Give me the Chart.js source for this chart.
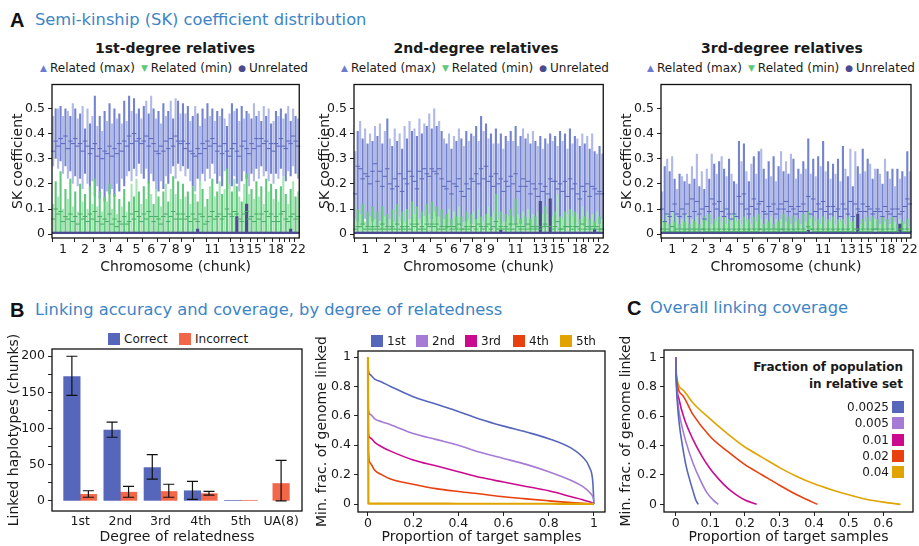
<!DOCTYPE html>
<html>
<head>
<meta charset="utf-8">
<script src="https://cdn.jsdelivr.net/npm/chart.js@4.4.1/dist/chart.umd.min.js"></script>
<style>
html,body{margin:0;padding:0;background:#fff;}
#wrap{position:relative;width:919px;height:546px;overflow:hidden;font-family:"DejaVu Sans",Verdana,sans-serif;color:#1a1a1a;}
.t{position:absolute;white-space:nowrap;line-height:1;transform:translateY(-50%);}
.c{transform:translate(-50%,-50%);}
.hd{font-size:16.3px;color:#3d85c6;}
.lt{font-family:"Liberation Sans",Arial,sans-serif;font-weight:bold;font-size:20px;color:#111;}
.pt{font-weight:bold;font-size:14px;}
.lg{font-size:12px;display:flex;align-items:center;gap:6px;}
.lg i{font-style:normal;font-size:9px;margin-right:3px;position:relative;top:-1px;}
.box{position:absolute;width:12px;height:12px;}
.lt2{font-size:12px;}
.lb{font-size:12px;font-weight:bold;}
canvas{position:absolute;}
</style>
</head>
<body>
<div id="wrap">
  <div class="t lt" style="left:10px;top:20px">A</div>
  <div class="t hd" style="left:35px;top:20px">Semi-kinship (SK) coefficient distribution</div>
  <div class="t c pt" style="left:175px;top:48px">1st-degree relatives</div>
  <div class="t c pt" style="left:476px;top:48px">2nd-degree relatives</div>
  <div class="t c pt" style="left:782px;top:48px">3rd-degree relatives</div>
  <div class="t c lg" style="left:174px;top:68px"><span><i style="color:#6b7bd0">▲</i>Related (max)</span><span><i style="color:#5cc878">▼</i>Related (min)</span><span><i style="color:#4b4a8f">●</i>Unrelated</span></div>
  <div class="t c lg" style="left:475px;top:68px"><span><i style="color:#6b7bd0">▲</i>Related (max)</span><span><i style="color:#5cc878">▼</i>Related (min)</span><span><i style="color:#4b4a8f">●</i>Unrelated</span></div>
  <div class="t c lg" style="left:781px;top:68px"><span><i style="color:#6b7bd0">▲</i>Related (max)</span><span><i style="color:#5cc878">▼</i>Related (min)</span><span><i style="color:#4b4a8f">●</i>Unrelated</span></div>

  <div class="t lt" style="left:10px;top:310px">B</div>
  <div class="t hd" style="left:35px;top:310px">Linking accuracy and coverage, by degree of relatedness</div>
  <div class="t lt" style="left:627px;top:308px">C</div>
  <div class="t hd" style="left:650px;top:308px">Overall linking coverage</div>

  <div class="box" style="left:108px;top:333px;background:#5566bb"></div>
  <div class="t lt2" style="left:124px;top:339px">Correct</div>
  <div class="box" style="left:179px;top:333px;background:#f26649"></div>
  <div class="t lt2" style="left:195px;top:339px">Incorrect</div>

  <div class="t lb" style="right:16px;top:367px">Fraction of population</div>
  <div class="t lb" style="right:16px;top:384px">in relative set</div>

  <canvas id="sk1" width="300" height="206" style="left:6px;top:74px"></canvas>
  <canvas id="sk2" width="297" height="206" style="left:313px;top:74px"></canvas>
  <canvas id="sk3" width="304" height="206" style="left:615px;top:74px"></canvas>
  <canvas id="b1" width="310" height="228" style="left:0px;top:318px"></canvas>
  <canvas id="b2" width="304" height="228" style="left:310px;top:318px"></canvas>
  <canvas id="cc" width="305" height="228" style="left:614px;top:318px"></canvas>
</div>
<script>
// ---------------- DATA ----------------
// chunks per chromosome (1..22) and which chromosome numbers are labelled
const chromChunks = [9,8,7,7,6,6,5,5,5,5,5,5,4,4,3,3,3,3,2,2,2,2];
const chromShown = [1,2,3,4,5,6,7,8,9,11,13,15,18,22];
const skTicks = [0, 0.1, 0.2, 0.3, 0.4, 0.5];

// Panel 1: 1st-degree
const p1MaxHi = [.47,.50,.50,.51,.47,.50,.49,.47,.52, .50,.46,.48,.51,.42,.50,.44,.47, .55,.43,.47,.41,.49,.45,.52, .44,.50,.46,.48,.44,.53,.45, .55,.49,.54,.48,.50,.46, .51,.53,.48,.55,.50,.46, .49,.44,.52,.47,.49, .53,.46,.54,.53,.48, .52,.48,.51,.45,.47, .51,.48,.43,.50,.46, .52,.47,.50,.45,.49, .47,.50,.46,.43,.48, .52,.49,.50,.45, .51,.46,.49,.48, .46,.52,.47, .49,.45,.51, .47,.50,.44, .45,.49,.47, .50,.46, .48,.51, .45,.50, .47,.46];
const p1MaxLo = [.27,.30,.26,.29,.24,.27,.22,.25,.20, .23,.19,.22,.18,.24,.20,.17,.21, .15,.19,.14,.18,.13,.17,.16, .18,.15,.20,.17,.22,.19,.23, .25,.21,.26,.23,.28,.24, .22,.26,.20,.24,.21,.18, .17,.21,.18,.23,.20, .24,.27,.22,.28,.25, .27,.23,.26,.21,.19, .17,.22,.19,.24,.21, .26,.22,.28,.24,.20, .23,.19,.25,.21,.18, .19,.23,.20,.17, .21,.25,.22,.19, .24,.21,.26, .22,.27,.23, .25,.21,.24, .20,.24,.22, .26,.23, .21,.25, .23,.27, .24,.22];
const p1MaxMean = [.33,.37,.35,.38,.36,.39,.34,.37,.36, .38,.35,.36,.33,.37,.35,.32,.34, .36,.31,.34,.30,.33,.32,.35, .31,.34,.32,.36,.33,.37,.35, .39,.36,.40,.37,.38,.36, .37,.39,.35,.38,.36,.33, .32,.35,.33,.37,.34, .38,.35,.39,.37,.36, .37,.34,.36,.33,.32, .31,.34,.32,.36,.34, .37,.35,.38,.36,.33, .35,.32,.36,.33,.31, .34,.36,.33,.31, .35,.37,.34,.32, .36,.34,.38, .35,.38,.36, .37,.34,.36, .33,.36,.35, .38,.35, .34,.37, .36,.39, .37,.35];
const p1MinHi = [.12,.21,.15,.25,.10,.18,.14,.22,.11, .17,.09,.20,.13,.16,.10,.19,.12, .22,.11,.17,.09,.15,.13,.20, .10,.16,.08,.14,.11,.18,.09, .13,.20,.15,.22,.17,.12, .19,.14,.21,.16,.12,.18, .15,.11,.17,.20,.13, .18,.23,.16,.21,.14, .20,.15,.17,.12,.19, .16,.13,.21,.18,.11, .14,.19,.22,.15,.17, .21,.16,.18,.26,.20, .17,.22,.19,.15, .13,.20,.24,.16, .18,.14,.21, .15,.19,.12, .22,.17,.20, .14,.18,.13, .19,.23, .16,.12, .18,.21, .15,.17];
const p1MinMean = [.06,.10,.08,.09,.05,.07,.06,.08,.05, .07,.04,.08,.06,.07,.05,.08,.06, .09,.05,.07,.04,.06,.05,.08, .04,.06,.03,.05,.04,.07,.04, .05,.08,.06,.09,.07,.05, .08,.06,.09,.07,.05,.07, .06,.04,.07,.08,.05, .07,.09,.06,.08,.06, .08,.06,.07,.05,.08, .06,.05,.08,.07,.04, .05,.07,.09,.06,.07, .08,.06,.07,.10,.08, .07,.09,.08,.06, .05,.08,.09,.06, .07,.05,.08, .06,.08,.05, .09,.07,.08, .05,.07,.05, .08,.09, .06,.05, .07,.08, .06,.07];
const p1Unrel = [.008,.008,.008,.008,.008,.008,.008,.008,.008, .008,.008,.008,.008,.008,.008,.008,.008, .008,.008,.008,.008,.008,.008,.008, .008,.008,.008,.008,.008,.008,.008, .008,.008,.008,.008,.008,.008, .008,.008,.008,.008,.008,.008, .008,.008,.008,.008,.008, .008,.008,.008,.008,.008, .008,.008,.008,.008,.008, .008,.02,.008,.008,.008, .008,.008,.008,.008,.008, .008,.008,.008,.008,.008, .008,.008,.07,.008, .008,.008,.12,.008, .008,.008,.008, .008,.008,.008, .008,.008,.008, .008,.008,.008, .008,.008, .008,.008, .02,.008, .008,.008];

// Panel 2: 2nd-degree
const p2MaxHi = [.33,.41,.45,.38,.42,.36,.40,.37,.43, .39,.44,.36,.41,.46,.38,.35,.42, .37,.40,.34,.43,.38,.45,.41, .42,.39,.46,.40,.44,.43,.48, .42,.50,.43,.45,.41,.38, .36,.40,.34,.39,.37,.42, .38,.35,.41,.37,.40, .39,.43,.37,.47,.41, .44,.38,.40,.36,.42, .36,.40,.34,.39,.37, .41,.37,.43,.35,.39, .42,.38,.40,.36,.41, .37,.35,.39,.34, .38,.36,.40,.37, .39,.35,.41, .37,.40,.34, .42,.36,.39, .38,.35,.40, .36,.39, .34,.40, .33,.32, .35,.32];
const p2MaxLo = [.03,.05,.02,.04,.06,.03,.02,.05,.04, .03,.05,.02,.04,.03,.06,.02,.04, .03,.05,.02,.04,.03,.06,.04, .05,.03,.06,.04,.07,.05,.03, .06,.04,.07,.05,.03,.04, .02,.04,.03,.05,.02,.04, .03,.02,.05,.03,.04, .04,.06,.03,.05,.02, .05,.03,.04,.02,.03, .02,.04,.03,.05,.02, .03,.05,.04,.02,.04, .05,.03,.04,.02,.03, .02,.04,.03,.02, .03,.05,.02,.04, .03,.02,.04, .02,.04,.03, .05,.03,.04, .02,.04,.03, .03,.05, .02,.04, .03,.02, .04,.03];
const p2MaxMean = [.16,.27,.26,.22,.24,.23,.20,.25,.28, .21,.25,.19,.23,.26,.20,.18,.22, .19,.24,.17,.22,.20,.25,.23, .21,.18,.25,.22,.26,.24,.23, .26,.25,.24,.26,.22,.19, .18,.21,.16,.20,.19,.22, .17,.15,.20,.18,.22, .21,.24,.20,.26,.22, .27,.21,.23,.19,.24, .20,.22,.17,.21,.19, .23,.20,.24,.17,.19, .22,.19,.21,.16,.20, .18,.15,.20,.17, .19,.16,.22,.21, .21,.18,.20, .17,.21,.15, .22,.18,.20, .16,.14,.19, .17,.20, .15,.19, .18,.16, .17,.16];
const p2MinHi = [.06,.10,.08,.12,.05,.09,.07,.11,.06, .09,.05,.11,.07,.08,.06,.10,.05, .12,.07,.09,.05,.10,.06,.13, .08,.11,.06,.09,.07,.12,.08, .13,.09,.11,.07,.10,.06, .08,.10,.06,.09,.07,.11, .07,.05,.09,.06,.08, .09,.06,.10,.07,.05, .08,.11,.07,.09,.16, .06,.09,.05,.08,.07, .10,.07,.14,.08,.06, .09,.07,.10,.06,.08, .07,.09,.06,.08, .11,.08,.10,.07, .09,.16,.07, .06,.09,.08, .10,.07,.09, .08,.06,.11, .07,.09, .06,.08, .05,.09, .07,.06];
const p2MinMean = [.02,.03,.03,.04,.02,.03,.02,.03,.02, .03,.02,.04,.02,.03,.02,.03,.02, .04,.02,.03,.02,.03,.02,.04, .03,.04,.02,.03,.02,.04,.03, .04,.03,.04,.02,.03,.02, .03,.03,.02,.03,.02,.04, .02,.02,.03,.02,.03, .03,.02,.04,.03,.02, .03,.04,.02,.03,.05, .02,.03,.02,.03,.02, .04,.02,.04,.03,.02, .03,.02,.04,.02,.03, .02,.03,.02,.03, .04,.03,.03,.02, .03,.05,.02, .02,.03,.03, .03,.02,.03, .03,.02,.04, .02,.03, .02,.03, .02,.03, .02,.02];
const p2Unrel = [.008,.008,.008,.008,.008,.008,.008,.008,.008, .008,.008,.008,.008,.008,.008,.008,.008, .008,.008,.008,.008,.008,.008,.008, .008,.008,.008,.008,.008,.008,.008, .008,.008,.008,.008,.008,.008, .008,.008,.008,.008,.008,.008, .008,.008,.008,.008,.008, .008,.008,.008,.008,.008, .008,.008,.008,.008,.008, .008,.015,.008,.008,.008, .008,.008,.008,.008,.008, .008,.008,.008,.008,.008, .008,.008,.13,.008, .008,.008,.14,.008, .008,.008,.008, .008,.008,.008, .008,.008,.008, .008,.008,.008, .008,.008, .008,.008, .02,.008, .008,.008];

// Panel 3: 3rd-degree
const p3MaxHi = [.17,.27,.30,.25,.31,.22,.18,.24,.23, .21,.24,.20,.27,.22,.32,.19,.25, .18,.26,.22,.32,.28,.24,.29, .31,.26,.23,.30,.24,.21,.20, .37,.29,.36,.25,.21,.28, .31,.24,.33,.34,.26,.22, .29,.23,.31,.21,.27, .33,.25,.29,.24,.32, .30,.22,.26,.24,.29, .26,.38,.24,.30,.23, .31,.27,.37,.25,.29, .22,.28,.24,.30,.21, .35,.26,.23,.34, .19,.33,.27,.24, .34,.25,.30, .28,.22,.26, .26,.24,.20, .30,.25,.22, .26,.19, .26,.22, .25,.23, .33,.25];
const p3MaxLo = [.02,.01,.03,.01,.02,.01,.01,.02,.01, .01,.02,.01,.03,.01,.02,.01,.02, .01,.02,.01,.03,.02,.01,.02, .02,.01,.02,.01,.01,.02,.01, .03,.02,.03,.01,.01,.02, .02,.01,.02,.03,.01,.01, .02,.01,.02,.01,.01, .02,.01,.03,.01,.02, .01,.01,.02,.03,.02, .01,.02,.01,.03,.01, .02,.01,.02,.01,.02, .01,.02,.01,.02,.01, .02,.01,.01,.02, .01,.02,.01,.01, .02,.01,.02, .01,.01,.02, .02,.01,.01, .01,.02,.01, .02,.01, .01,.02, .01,.02, .02,.01];
const p3MaxMean = [.10,.05,.08,.07,.09,.12,.08,.07,.10, .08,.12,.07,.14,.09,.13,.08,.10, .06,.11,.09,.14,.12,.10,.13, .09,.07,.10,.08,.06,.08,.07, .15,.12,.16,.10,.08,.11, .14,.10,.12,.13,.09,.08, .11,.09,.12,.08,.10, .12,.10,.13,.09,.11, .10,.08,.11,.09,.12, .09,.15,.08,.14,.09, .12,.10,.13,.09,.11, .08,.11,.09,.10,.07, .12,.10,.08,.13, .07,.12,.10,.09, .12,.09,.11, .10,.08,.09, .10,.09,.07, .11,.09,.08, .10,.07, .10,.08, .09,.11, .14,.12];
const p3MinHi = [.06,.05,.08,.04,.09,.05,.07,.04,.06, .05,.08,.04,.06,.05,.07,.04,.06, .07,.05,.08,.04,.06,.05,.07, .05,.07,.04,.06,.05,.08,.05, .06,.04,.07,.05,.06,.04, .07,.05,.08,.06,.04,.06, .05,.07,.04,.06,.05, .06,.08,.05,.07,.04, .07,.05,.06,.04,.08, .05,.09,.06,.07,.05, .06,.04,.07,.05,.06, .05,.07,.04,.06,.05, .06,.04,.07,.05, .05,.07,.06,.04, .06,.05,.07, .05,.07,.06, .06,.04,.07, .05,.06,.04, .07,.05, .04,.06, .05,.04, .06,.03];
const p3MinMean = [.02,.01,.02,.01,.03,.01,.02,.01,.02, .01,.02,.01,.02,.01,.02,.01,.02, .02,.01,.02,.01,.02,.01,.02, .01,.02,.01,.02,.01,.02,.01, .02,.01,.02,.01,.02,.01, .02,.01,.02,.02,.01,.02, .01,.02,.01,.02,.01, .02,.02,.01,.02,.01, .02,.01,.02,.01,.02, .01,.03,.02,.02,.01, .02,.01,.02,.01,.02, .01,.02,.01,.02,.01, .02,.01,.02,.01, .01,.02,.02,.01, .02,.01,.02, .01,.02,.02, .02,.01,.02, .01,.02,.01, .02,.01, .01,.02, .02,.01, .02,.01];
const p3Unrel = [.008,.008,.008,.008,.008,.008,.008,.008,.008, .008,.008,.008,.008,.008,.008,.008,.008, .008,.008,.008,.008,.008,.008,.008, .008,.008,.008,.008,.008,.008,.008, .008,.008,.008,.008,.008,.008, .008,.008,.008,.008,.008,.008, .008,.008,.008,.008,.008, .008,.008,.008,.008,.008, .008,.008,.008,.008,.008, .008,.015,.008,.008,.008, .008,.008,.008,.008,.008, .008,.008,.008,.008,.008, .008,.008,.008,.008, .008,.008,.08,.008, .008,.008,.008, .008,.008,.008, .008,.008,.008, .008,.008,.008, .008,.008, .008,.04, .008,.008, .008,.008];

// Panel B (bars)
const degCats = ['1st','2nd','3rd','4th','5th','UA(8)'];
const correctVal = [172, 98, 46, 14, 0.8, null];
const correctLo  = [146, 88, 30, 2, null, null];
const correctHi  = [200, 109, 64, 27, null, null];
const incorrectVal = [9, 12, 13, 10, 0.8, 24];
const incorrectLo  = [5, 5, 5, 8, null, 0];
const incorrectHi  = [14, 20, 23, 13, null, 56];
const b1Ticks = [0,25,50,75,100,125,150,175,200];

// Panel B (curves)
const degLabels = ['1st','2nd','3rd','4th','5th'];
const b2X  = [0, 0.002, 0.01, 0.03, 0.06, 0.1, 0.2, 0.3, 0.4, 0.5, 0.6, 0.7, 0.8, 0.9, 0.95, 0.98, 0.995, 1];
const deg1 = [1, 0.91, 0.88, 0.85, 0.83, 0.80, 0.73, 0.68, 0.63, 0.575, 0.53, 0.49, 0.445, 0.38, 0.32, 0.25, 0.15, 0];
const deg2 = [1, 0.64, 0.61, 0.58, 0.56, 0.54, 0.48, 0.44, 0.40, 0.35, 0.31, 0.27, 0.22, 0.16, 0.12, 0.08, 0.05, 0.02];
const deg3 = [1, 0.48, 0.45, 0.42, 0.39, 0.36, 0.30, 0.26, 0.22, 0.18, 0.15, 0.12, 0.09, 0.05, 0.03, 0.015, 0.005, 0];
const deg4 = [1, 0.36, 0.28, 0.23, 0.20, 0.17, 0.135, 0.105, 0.085, 0.068, 0.05, 0.035, 0.022, 0.01, 0.005, 0.002, 0.001, 0];
const deg5 = [1, 0.004, 0.003, 0.003, 0.003, 0.003, 0.003, 0.003, 0.002, 0.002, 0.002, 0.002, 0.002, 0.001, 0.001, 0.001, 0.001, 0];
const b2XTicks = [0, 0.2, 0.4, 0.6, 0.8, 1];
const b2YTicks = [0, 0.2, 0.4, 0.6, 0.8, 1];

// Panel C (curves)
const fracLabels = ['0.0025','0.005','0.01','0.02','0.04'];
const f0025X = [0, 0.002, 0.005, 0.01, 0.02, 0.03, 0.04, 0.05, 0.058, 0.065];
const f0025Y = [1, 0.80, 0.68, 0.55, 0.39, 0.26, 0.17, 0.09, 0.03, 0];
const f005X = [0, 0.002, 0.005, 0.01, 0.02, 0.03, 0.05, 0.07, 0.09, 0.11, 0.123];
const f005Y = [1, 0.82, 0.72, 0.62, 0.51, 0.42, 0.28, 0.17, 0.08, 0.025, 0];
const f01X = [0, 0.002, 0.01, 0.025, 0.05, 0.075, 0.1, 0.125, 0.15, 0.175, 0.2, 0.234];
const f01Y = [1, 0.84, 0.71, 0.58, 0.44, 0.33, 0.24, 0.17, 0.11, 0.065, 0.03, 0];
const f02X = [0, 0.002, 0.02, 0.05, 0.1, 0.15, 0.2, 0.25, 0.3, 0.35, 0.4, 0.41];
const f02Y = [1, 0.86, 0.74, 0.61, 0.46, 0.36, 0.27, 0.20, 0.13, 0.065, 0.01, 0];
const f04X = [0, 0.002, 0.02, 0.05, 0.1, 0.15, 0.2, 0.25, 0.3, 0.35, 0.4, 0.45, 0.5, 0.55, 0.6, 0.65];
const f04Y = [1, 0.88, 0.78, 0.69, 0.58, 0.48, 0.39, 0.32, 0.25, 0.19, 0.14, 0.10, 0.065, 0.035, 0.015, 0];
const cXTicks = [0, 0.1, 0.2, 0.3, 0.4, 0.5, 0.6];
const cYTicks = [0, 0.2, 0.4, 0.6, 0.8, 1];

// ---------------- STYLE ----------------
const FONT = '"DejaVu Sans", Verdana, sans-serif';
const TXT = '#1a1a1a';
const curveColors = ['#5566bb', '#a57bd6', '#cc0a8f', '#e8400e', '#e0a300'];
Chart.defaults.font.family = FONT;
Chart.defaults.color = TXT;
Chart.defaults.animation = false;
Chart.defaults.plugins.legend.display = false;
Chart.defaults.plugins.tooltip.enabled = false;

Chart.register({
  id: 'frame',
  afterDraw(chart) {
    const a = chart.chartArea, c = chart.ctx;
    c.save(); c.strokeStyle = '#111'; c.lineWidth = 1.3;
    c.strokeRect(a.left, a.top, a.right - a.left, a.bottom - a.top);
    c.restore();
  }
});

const fmt = v => String(+(+v).toFixed(3));
const tickFont = { size: 12.5 };
const titleFont = { size: 14 };

// chunk labels & chromosome boundaries
const chunkLabels = [];
const boundaryIdx = new Set();
(function () {
  let s = 0;
  chromChunks.forEach((n, k) => {
    const chrom = k + 1;
    boundaryIdx.add(s);
    const mid = Math.round(s + (n - 1) / 2);
    for (let j = 0; j < n; j++) chunkLabels.push(chromShown.includes(chrom) && s + j === mid ? String(chrom) : '');
    s += n;
  });
})();

function skChart(id, d, padRight, yWidth) {
  const alt = (a, b) => ctx => (ctx.dataIndex % 2 ? a : b);
  return new Chart(document.getElementById(id), {
    data: {
      labels: chunkLabels,
      datasets: [
        { type: 'bar', label: 'Related (max)', data: d.maxLo.map((v, i) => [v, d.maxHi[i]]),
          backgroundColor: alt('#7383cf', '#b0b9e7'), grouped: false, barPercentage: 0.85, categoryPercentage: 1, order: 6 },
        { type: 'bar', label: 'Related (min)', data: d.minHi,
          backgroundColor: alt('#5fc97b', '#a8e4b6'), grouped: false, barPercentage: 0.85, categoryPercentage: 1, order: 5 },
        { type: 'bar', label: 'Unrelated', data: d.unrel.map(v => [0, v]),
          backgroundColor: '#4b4a8f', grouped: false, barPercentage: 1, categoryPercentage: 1, order: 4 },
        { type: 'line', label: 'Related (max) mean', data: d.maxMean, showLine: false, pointStyle: 'line',
          pointRadius: 2.2, borderColor: '#5866bd', borderWidth: 1, order: 2 },
        { type: 'line', label: 'Related (min) mean', data: d.minMean, showLine: false, pointStyle: 'line',
          pointRadius: 2.2, borderColor: '#45ad63', borderWidth: 1, order: 1 }
      ]
    },
    options: {
      responsive: false, devicePixelRatio: 1,
      layout: { padding: { left: 0, top: 4, right: padRight, bottom: 0 } },
      scales: {
        x: {
          type: 'category', offset: true,
          grid: { offset: true, drawOnChartArea: false, drawTicks: true, tickLength: 4,
                  color: ctx => (ctx.index !== undefined && boundaryIdx.has(ctx.index)) ? '#222' : 'rgba(0,0,0,0)' },
          border: { display: false },
          ticks: { autoSkip: false, maxRotation: 0, minRotation: 0, padding: 0, font: tickFont, color: TXT },
          title: { display: true, text: 'Chromosome (chunk)', font: titleFont, color: TXT, padding: { top: 0, bottom: 4 } },
          afterFit: s => { s.height = 42; }
        },
        y: {
          min: -0.0153, max: 0.595,
          afterBuildTicks: s => { s.ticks = skTicks.map(v => ({ value: v })); },
          grid: { drawOnChartArea: false, tickLength: 4, color: '#222' },
          border: { display: false },
          ticks: { callback: v => fmt(v), font: tickFont, color: TXT, padding: 3 },
          title: { display: true, text: 'SK coefficient', font: titleFont, color: TXT, padding: { top: 4, bottom: 0 } },
          afterFit: s => { s.width = yWidth; }
        }
      }
    }
  });
}

skChart('sk1', { maxHi: p1MaxHi, maxLo: p1MaxLo, maxMean: p1MaxMean, minHi: p1MinHi, minMean: p1MinMean, unrel: p1Unrel }, 5, 46);
skChart('sk2', { maxHi: p2MaxHi, maxLo: p2MaxLo, maxMean: p2MaxMean, minHi: p2MinHi, minMean: p2MinMean, unrel: p2Unrel }, 6, 41);
skChart('sk3', { maxHi: p3MaxHi, maxLo: p3MaxLo, maxMean: p3MaxMean, minHi: p3MinHi, minMean: p3MinMean, unrel: p3Unrel }, 8, 46);

// -------- B1: bars with error bars --------
const errorBars = {
  id: 'errorBars',
  afterDatasetsDraw(chart) {
    const c = chart.ctx, y = chart.scales.y;
    chart.data.datasets.forEach((ds, di) => {
      if (!ds.errLo) return;
      chart.getDatasetMeta(di).data.forEach((el, i) => {
        const lo = ds.errLo[i], hi = ds.errHi[i];
        if (lo == null || hi == null) return;
        const x = el.x, y1 = y.getPixelForValue(lo), y2 = y.getPixelForValue(hi);
        c.save(); c.strokeStyle = '#111'; c.lineWidth = 1.2;
        c.beginPath();
        c.moveTo(x, y1); c.lineTo(x, y2);
        c.moveTo(x - 5.5, y1); c.lineTo(x + 5.5, y1);
        c.moveTo(x - 5.5, y2); c.lineTo(x + 5.5, y2);
        c.stroke(); c.restore();
      });
    });
  }
};

const TOPPAD = 28;
new Chart(document.getElementById('b1'), {
  type: 'bar',
  data: {
    datasets: [
      { label: 'Correct', data: degCats.map((c, i) => ({ x: i, y: correctVal[i] })), backgroundColor: '#5566bb',
        errLo: correctLo, errHi: correctHi, skipNull: true, barThickness: 16.5 },
      { label: 'Incorrect', data: degCats.map((c, i) => ({ x: i, y: incorrectVal[i] })), backgroundColor: '#f26649',
        errLo: incorrectLo, errHi: incorrectHi, skipNull: true, barThickness: 16.5 }
    ]
  },
  options: {
    responsive: false, devicePixelRatio: 1,
    layout: { padding: { left: 0, top: 3 + TOPPAD, right: 8, bottom: 0 } },
    scales: {
      x: {
        type: 'linear', offset: false, min: -0.7, max: 5.52,
        afterBuildTicks: s => { s.ticks = degCats.map((c, i) => ({ value: i })); },
        grid: { display: false, drawTicks: false, tickLength: 0 }, border: { display: false },
        ticks: { callback: v => degCats[v], font: tickFont, color: TXT, padding: 3, maxRotation: 0, autoSkip: false },
        title: { display: true, text: 'Degree of relatedness', font: titleFont, color: TXT, padding: { top: 0, bottom: 0 } },
        afterFit: s => { s.height = 35; }
      },
      y: {
        min: -14, max: 210,
        afterBuildTicks: s => { s.ticks = b1Ticks.map(v => ({ value: v })); },
        grid: { drawOnChartArea: false, tickLength: 4, color: '#222' }, border: { display: false },
        ticks: { callback: v => (v % 50 === 0 ? String(v) : ''), font: tickFont, color: TXT, padding: 3 },
        title: { display: true, text: 'Linked haplotypes (chunks)', font: titleFont, color: TXT, padding: { top: 6, bottom: 0 } },
        afterFit: s => { s.width = 52; }
      }
    }
  },
  plugins: [errorBars]
});

// -------- B2: curves by degree --------
const degYs = [deg1, deg2, deg3, deg4, deg5];
new Chart(document.getElementById('b2'), {
  type: 'line',
  data: {
    datasets: degYs.map((ys, k) => ({
      label: degLabels[k], data: b2X.map((x, i) => ({ x, y: ys[i] })),
      borderColor: curveColors[k], borderWidth: k === 4 ? 2.2 : 1.6, pointRadius: 0,
      cubicInterpolationMode: 'monotone', fill: false, order: 4 - k
    }))
  },
  options: {
    responsive: false, devicePixelRatio: 1,
    layout: { padding: { left: 0, top: 5 + TOPPAD, right: 9, bottom: 0 } },
    scales: {
      x: {
        type: 'linear', min: -0.044, max: 1.049,
        afterBuildTicks: s => { s.ticks = b2XTicks.map(v => ({ value: v })); },
        grid: { drawOnChartArea: false, tickLength: 4, color: '#222' }, border: { display: false },
        ticks: { callback: v => fmt(v), font: tickFont, color: TXT, padding: 0, maxRotation: 0 },
        title: { display: true, text: 'Proportion of target samples', font: titleFont, color: TXT, padding: { top: 0, bottom: 0 } },
        afterFit: s => { s.height = 34; }
      },
      y: {
        min: -0.054, max: 1.041,
        afterBuildTicks: s => { s.ticks = b2YTicks.map(v => ({ value: v })); },
        grid: { drawOnChartArea: false, tickLength: 4, color: '#222' }, border: { display: false },
        ticks: { callback: v => fmt(v), font: tickFont, color: TXT, padding: 3 },
        title: { display: true, text: 'Min. frac. of genome linked', font: titleFont, color: TXT, padding: { top: 4, bottom: 0 } },
        afterFit: s => { s.width = 48; }
      }
    }
  }
});

// -------- C: overall coverage --------
const fracSeries = [[f0025X, f0025Y], [f005X, f005Y], [f01X, f01Y], [f02X, f02Y], [f04X, f04Y]];
new Chart(document.getElementById('cc'), {
  type: 'line',
  data: {
    datasets: fracSeries.map((xy, k) => ({
      label: fracLabels[k], data: xy[0].map((x, i) => ({ x, y: xy[1][i] })),
      borderColor: curveColors[k], borderWidth: 1.6, pointRadius: 0,
      cubicInterpolationMode: 'monotone', fill: false
    }))
  },
  options: {
    responsive: false, devicePixelRatio: 1,
    layout: { padding: { left: 0, top: 4 + TOPPAD, right: 6, bottom: 0 } },
    scales: {
      x: {
        type: 'linear', min: -0.034, max: 0.686,
        afterBuildTicks: s => { s.ticks = cXTicks.map(v => ({ value: v })); },
        grid: { drawOnChartArea: false, tickLength: 4, color: '#222' }, border: { display: false },
        ticks: { callback: v => fmt(v), font: tickFont, color: TXT, padding: 0, maxRotation: 0 },
        title: { display: true, text: 'Proportion of target samples', font: titleFont, color: TXT, padding: { top: 0, bottom: 0 } },
        afterFit: s => { s.height = 34; }
      },
      y: {
        min: -0.052, max: 1.05,
        afterBuildTicks: s => { s.ticks = cYTicks.map(v => ({ value: v })); },
        grid: { drawOnChartArea: false, tickLength: 4, color: '#222' }, border: { display: false },
        ticks: { callback: v => fmt(v), font: tickFont, color: TXT, padding: 3 },
        title: { display: true, text: 'Min. frac. of genome linked', font: titleFont, color: TXT, padding: { top: 4, bottom: 0 } },
        afterFit: s => { s.width = 50; }
      }
    }
  }
});

// -------- HTML legends for B2 and C --------
const wrap = document.getElementById('wrap');
function addEl(cls, style, text) {
  const e = document.createElement('div');
  e.className = cls; e.setAttribute('style', style);
  if (text !== undefined) e.textContent = text;
  wrap.appendChild(e);
}
const b2LegLeft = [371, 416, 465, 513, 560];
degLabels.forEach((lab, k) => {
  addEl('box', `left:${b2LegLeft[k]}px;top:335px;background:${curveColors[k]}`);
  addEl('t lt2', `left:${b2LegLeft[k] + 16}px;top:341px`, lab);
});
const cLegY = [407, 423, 440, 456, 472];
fracLabels.forEach((lab, k) => {
  addEl('t lt2', `right:${919 - 889}px;top:${cLegY[k]}px`, lab);
  addEl('box', `left:892px;top:${cLegY[k] - 6}px;background:${curveColors[k]}`);
});
</script>
</body>
</html>
